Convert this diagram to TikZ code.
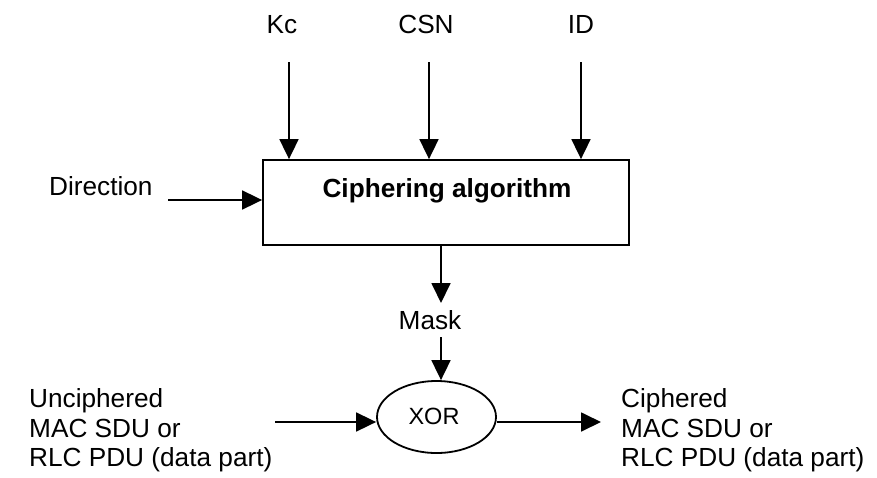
\documentclass[tikz,border=0pt]{standalone}
\usepackage{fontspec}
\setmainfont{Liberation Sans}
\usetikzlibrary{arrows.meta,shapes.geometric}
\begin{document}
\begin{tikzpicture}[x=1pt,y=-1pt,
  lbl/.style={inner sep=0pt,anchor=base,font=\fontsize{26.2pt}{30pt}\selectfont},
  lblw/.style={inner sep=0pt,anchor=base west,font=\fontsize{26.2pt}{30pt}\selectfont},
  conn/.style={line width=1.8pt,-{Triangle[length=20pt,width=19pt]}},
  boxst/.style={draw,line width=1.8pt,rectangle,minimum width=366pt,minimum height=85pt,inner sep=0pt},
  xorst/.style={draw,line width=1.8pt,ellipse,minimum width=119pt,minimum height=72pt,inner sep=0pt}]
\useasboundingbox (0,0) rectangle (877,477);
% box
\node[boxst] (alg) at (446,202.5) {};
\node[lbl,font=\fontsize{26.2pt}{30pt}\selectfont\bfseries] (algtxt) at (447,197) {Ciphering algorithm};
% top inputs
\node[lbl] (kc) at (282,33) {Kc};
\node[lbl] (csn) at (426,33) {CSN};
\node[lbl] (id) at (581,33) {ID};
\coordinate (kcs) at (289,62);
\coordinate (csns) at (429,62);
\coordinate (ids) at (581,62);
\draw[conn] (kcs) -- (kcs |- alg.north);
\draw[conn] (csns) -- (csns |- alg.north);
\draw[conn] (ids) -- (ids |- alg.north);
% direction
\node[lblw] (dir) at (49,195) {Direction};
\coordinate (dirs) at (168,200);
\draw[conn] (dirs) -- (alg.west |- dirs);
% mask
\coordinate (m1) at (441,245);
\coordinate (m2) at (441,303);
\node[lbl] (mask) at (430,329) {Mask};
\coordinate (m3) at (441,337);
\node[xorst] (xor) at (436.5,417) {};
\node[lbl,font=\fontsize{23.5pt}{28pt}\selectfont] (xortxt) at (434,424) {XOR};
\draw[conn] (m1 |- alg.south) -- (m2);
\draw[conn] (m3) -- (m3 |- xor.north);
% left input
\node[lblw] (in1) at (29,407) {Unciphered};
\node[lblw] (in2) at (29,437) {MAC SDU or};
\node[lblw] (in3) at (29,466) {RLC PDU (data part)};
\coordinate (ins) at (275,422);
\draw[conn] (ins) -- (xor.west |- ins);
% right output
\node[lblw] (out1) at (621,407) {Ciphered};
\node[lblw] (out2) at (621,437) {MAC SDU or};
\node[lblw] (out3) at (621,466) {RLC PDU (data part)};
\coordinate (oute) at (601,422);
\draw[conn] (xor.east |- oute) -- (oute);
\end{tikzpicture}
\end{document}
